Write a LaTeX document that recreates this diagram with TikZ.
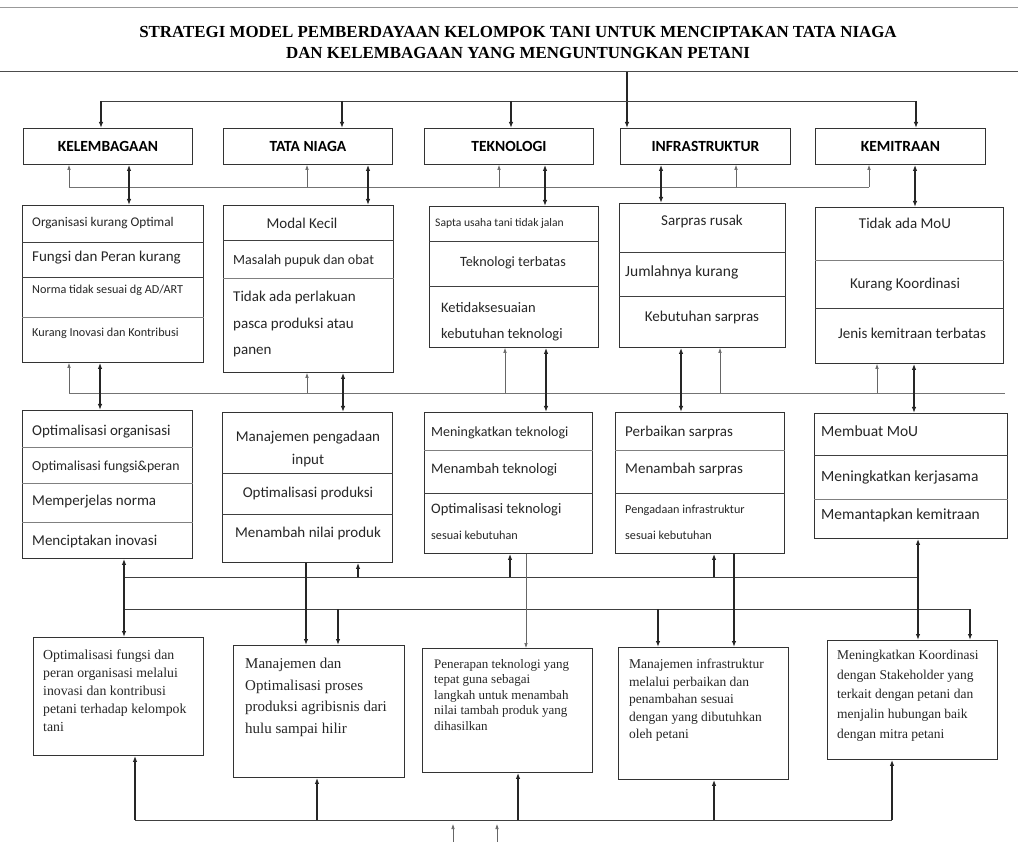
\documentclass[tikz,border=0pt]{standalone}
\usepackage{fontspec}
\setmainfont{Liberation Serif}
\newfontfamily\carl{Carlito}
\usetikzlibrary{arrows.meta}
\begin{document}
\begin{tikzpicture}[x=1pt,y=-1pt,
  box/.style={draw=black!80, line width=0.9pt, inner sep=0pt, anchor=north west},
  hdr/.style={box, font=\carl\bfseries\fontsize{15.5}{18}\selectfont},
  txt/.style={font=\carl\fontsize{15}{17}\selectfont, inner sep=0pt, anchor=west, text=black!85},
  txtc/.style={txt, anchor=center},
  stxt/.style={txt, font=\carl\fontsize{12.2}{14}\selectfont},
  ser/.style={align=left, anchor=north west, inner sep=0pt, text=black!85},
  div/.style={draw=black!75, line width=0.8pt},
  fdiv/.style={draw=black!50, line width=0.5pt},
  thk/.style={line width=1.3pt, draw=black!85, -{Latex[length=6pt,width=4.5pt]}},
  dbl/.style={line width=1.3pt, draw=black!85, {Latex[length=6pt,width=4.5pt]}-{Latex[length=6pt,width=4.5pt]}},
  thn/.style={line width=0.6pt, draw=black!60, -{Latex[length=5pt,width=3.5pt]}},
  bus/.style={line width=0.8pt, draw=black!75}]
\useasboundingbox (0,0) rectangle (1018,842);

% title
\draw[line width=0.5pt, black!40] (0,7) -- (1018,7);
\node[font=\bfseries\fontsize{16.9}{20}\selectfont] (t1) at (518,32) {STRATEGI MODEL PEMBERDAYAAN KELOMPOK TANI UNTUK MENCIPTAKAN TATA NIAGA};
\node[font=\bfseries\fontsize{16.9}{20}\selectfont] (t2) at (518,53) {DAN KELEMBAGAAN YANG MENGUNTUNGKAN PETANI};
\draw[line width=1pt, black!70] (0,72) -- (1018,72);
\coordinate (rule) at (627,72);

% headers
\node[hdr, minimum width=169pt, minimum height=36pt] (hK) at (23,128) {KELEMBAGAAN};
\node[hdr, minimum width=169pt, minimum height=36pt] (hT) at (223,128) {TATA NIAGA};
\node[hdr, minimum width=169pt, minimum height=36pt] (hE) at (424,128) {TEKNOLOGI};
\node[hdr, minimum width=170pt, minimum height=36pt] (hI) at (620,128) {INFRASTRUKTUR};
\node[hdr, minimum width=170pt, minimum height=36pt] (hM) at (815,128) {KEMITRAAN};

% problem boxes
\node[box, minimum width=181pt, minimum height=157pt] (pK) at (22,205) {};
\draw[div] (pK.west |- 0,242) -- (pK.east |- 0,242);
\draw[div] (pK.west |- 0,277) -- (pK.east |- 0,277);
\draw[fdiv] (pK.west |- 0,317) -- (pK.east |- 0,317);
\node[txt, font=\carl\fontsize{13.3}{15}\selectfont] (pK1) at (32,223) {Organisasi kurang Optimal};
\node[txt] (pK2) at (32,258) {Fungsi dan Peran kurang};
\node[stxt] (pK3) at (32,290) {Norma tidak sesuai dg AD/ART};
\node[stxt] (pK4) at (32,333) {Kurang Inovasi dan Kontribusi};

\node[box, minimum width=170pt, minimum height=167pt] (pT) at (223,205) {};
\draw[div] (pT.west |- 0,240) -- (pT.east |- 0,240);
\draw[fdiv] (pT.west |- 0,278) -- (pT.east |- 0,278);
\node[txtc] (pT1) at (302,223) {Modal Kecil};
\node[txt, font=\carl\fontsize{14}{16}\selectfont] (pT2) at (233,261) {Masalah pupuk dan obat};
\node[txt] (pT3) at (233,298) {Tidak ada perlakuan};
\node[txt] (pT4) at (233,325) {pasca produksi atau};
\node[txt] (pT5) at (233,352) {panen};

\node[box, minimum width=169pt, minimum height=141pt] (pE) at (429,206) {};
\draw[div] (pE.west |- 0,241) -- (pE.east |- 0,241);
\draw[div] (pE.west |- 0,286) -- (pE.east |- 0,286);
\node[stxt, font=\carl\fontsize{11.6}{13}\selectfont] (pE1) at (435,223) {Sapta usaha tani tidak jalan};
\node[txtc, font=\carl\fontsize{14.2}{16}\selectfont] (pE2) at (513,263) {Teknologi terbatas};
\node[txt, font=\carl\fontsize{14.5}{16}\selectfont] (pE3) at (441,308) {Ketidaksesuaian};
\node[txt, font=\carl\fontsize{14.5}{16}\selectfont] (pE4) at (441,335) {kebutuhan teknologi};

\node[box, minimum width=166pt, minimum height=144pt] (pI) at (619,203) {};
\draw[div] (pI.west |- 0,252) -- (pI.east |- 0,252);
\draw[div] (pI.west |- 0,296) -- (pI.east |- 0,296);
\node[txtc] (pI1) at (702,222) {Sarpras rusak};
\node[txt, font=\carl\fontsize{15.5}{17}\selectfont] (pI2) at (625,272) {Jumlahnya kurang};
\node[txtc] (pI3) at (702,318) {Kebutuhan sarpras};

\node[box, minimum width=188pt, minimum height=156pt] (pM) at (815,207) {};
\draw[fdiv] (pM.west |- 0,260) -- (pM.east |- 0,260);
\draw[div] (pM.west |- 0,308) -- (pM.east |- 0,308);
\node[txtc] (pM1) at (905,223) {Tidak ada MoU};
\node[txtc] (pM2) at (905,285) {Kurang Koordinasi};
\node[txtc] (pM3) at (912,333) {Jenis kemitraan terbatas};

% solution boxes
\node[box, minimum width=170pt, minimum height=148pt] (sK) at (22,410) {};
\draw[fdiv] (sK.west |- 0,447) -- (sK.east |- 0,447);
\draw[fdiv] (sK.west |- 0,483) -- (sK.east |- 0,483);
\draw[fdiv] (sK.west |- 0,522) -- (sK.east |- 0,522);
\node[txt] (sK1) at (32,432) {Optimalisasi organisasi};
\node[txt, font=\carl\fontsize{13.8}{15}\selectfont] (sK2) at (32,467) {Optimalisasi fungsi\&peran};
\node[txt] (sK3) at (32,502) {Memperjelas norma};
\node[txt] (sK4) at (32,541) {Menciptakan inovasi};

\node[box, minimum width=170pt, minimum height=150pt] (sT) at (222,412) {};
\draw[div] (sT.west |- 0,473) -- (sT.east |- 0,473);
\draw[div] (sT.west |- 0,514) -- (sT.east |- 0,514);
\node[txtc] (sT1) at (308,438) {Manajemen pengadaan};
\node[txtc] (sT2) at (308,461) {input};
\node[txtc] (sT3) at (308,493) {Optimalisasi produksi};
\node[txtc] (sT4) at (308,533) {Menambah nilai produk};

\node[box, minimum width=168pt, minimum height=141pt] (sE) at (424,412) {};
\draw[fdiv] (sE.west |- 0,450) -- (sE.east |- 0,450);
\draw[div] (sE.west |- 0,493) -- (sE.east |- 0,493);
\node[txt, font=\carl\fontsize{14}{16}\selectfont] (sE1) at (431,433) {Meningkatkan teknologi};
\node[txt, font=\carl\fontsize{14.5}{16}\selectfont] (sE2) at (431,470) {Menambah teknologi};
\node[txt, font=\carl\fontsize{14.5}{16}\selectfont] (sE3) at (431,510) {Optimalisasi teknologi};
\node[stxt] (sE4) at (431,535) {sesuai kebutuhan};

\node[box, minimum width=169pt, minimum height=141pt] (sI) at (615,412) {};
\draw[fdiv] (sI.west |- 0,450) -- (sI.east |- 0,450);
\draw[div] (sI.west |- 0,493) -- (sI.east |- 0,493);
\node[txt] (sI1) at (625,433) {Perbaikan sarpras};
\node[txt] (sI2) at (625,470) {Menambah sarpras};
\node[stxt] (sI3) at (625,510) {Pengadaan infrastruktur};
\node[stxt] (sI4) at (625,535) {sesuai kebutuhan};

\node[box, minimum width=193pt, minimum height=125pt] (sM) at (814,413) {};
\draw[div] (sM.west |- 0,455) -- (sM.east |- 0,455);
\draw[fdiv] (sM.west |- 0,499) -- (sM.east |- 0,499);
\node[txt, font=\carl\fontsize{15.5}{17}\selectfont] (sM1) at (821,431) {Membuat MoU};
\node[txt, font=\carl\fontsize{15.5}{17}\selectfont] (sM2) at (821,477) {Meningkatkan kerjasama};
\node[txt, font=\carl\fontsize{15.5}{17}\selectfont] (sM3) at (821,515) {Memantapkan kemitraan};

% bottom boxes
\node[box, minimum width=170pt, minimum height=118pt] (bK) at (33,637) {};
\node[ser, font=\fontsize{13.8}{18}\selectfont] (bK1) at (43,650) {Optimalisasi fungsi dan\\peran organisasi melalui\\inovasi dan kontribusi\\petani terhadap kelompok\\tani};
\node[box, minimum width=171pt, minimum height=132pt] (bT) at (233,645) {};
\node[ser, font=\fontsize{15}{21.5}\selectfont] (bT1) at (245,658) {Manajemen dan\\Optimalisasi proses\\produksi agribisnis dari\\hulu sampai hilir};
\node[box, minimum width=170pt, minimum height=124pt] (bE) at (422,648) {};
\node[ser, font=\fontsize{13}{15.5}\selectfont] (bE1) at (434,659) {Penerapan teknologi yang\\tepat guna sebagai\\langkah untuk menambah\\nilai tambah produk yang\\dihasilkan};
\node[box, minimum width=170pt, minimum height=132pt] (bI) at (618,647) {};
\node[ser, font=\fontsize{13.5}{17.5}\selectfont] (bI1) at (629,659) {Manajemen infrastruktur\\melalui perbaikan dan\\penambahan sesuai\\dengan yang dibutuhkan\\oleh petani};
\node[box, minimum width=170pt, minimum height=119pt] (bM) at (827,640) {};
\node[ser, font=\fontsize{13.5}{19.7}\selectfont] (bM1) at (837,650) {Meningkatkan Koordinasi\\dengan Stakeholder yang\\terkait dengan petani dan\\menjalin hubungan baik\\dengan mitra petani};

% ---- connectors ----
\draw[thk] (rule) -- (627,0 |- hI.north);
\draw[bus] (101,101) -- (916,101);
\draw[thk] (101,101) -- (101,0 |- hK.north);
\draw[thk] (342,101) -- (342,0 |- hT.north);
\draw[thk] (511,101) -- (511,0 |- hE.north);
\draw[thk] (916,101) -- (916,0 |- hM.north);

\draw[bus, black!55, line width=0.6pt] (69,187) -- (869,187);
\draw[thn] (69,187) -- (69,0 |- hK.south);
\draw[thn] (307,187) -- (307,0 |- hT.south);
\draw[thn] (499,187) -- (499,0 |- hE.south);
\draw[thn] (736,187) -- (736,0 |- hI.south);
\draw[thn] (869,187) -- (869,0 |- hM.south);
\draw[dbl] (129,0 |- hK.south) -- (129,0 |- pK.north);
\draw[dbl] (368,0 |- hT.south) -- (368,0 |- pT.north);
\draw[dbl] (545,0 |- hE.south) -- (545,0 |- pE.north);
\draw[dbl] (661,0 |- hI.south) -- (661,0 |- pI.north);
\draw[dbl] (915,0 |- hM.south) -- (915,0 |- pM.north);

\draw[bus, black!55, line width=0.6pt] (69,393) -- (1005,393);
\draw[thn] (69,393) -- (69,0 |- pK.south);
\draw[thn] (307,393) -- (307,0 |- pT.south);
\draw[thn] (505,393) -- (505,0 |- pE.south);
\draw[thn] (720,393) -- (720,0 |- pI.south);
\draw[thn] (877,393) -- (877,0 |- pM.south);
\draw[dbl] (100,0 |- pK.south) -- (100,0 |- sK.north);
\draw[dbl] (343,0 |- pT.south) -- (343,0 |- sT.north);
\draw[dbl] (546,0 |- pE.south) -- (546,0 |- sE.north);
\draw[dbl] (681,0 |- pI.south) -- (681,0 |- sI.north);
\draw[dbl] (914,0 |- pM.south) -- (914,0 |- sM.north);

\draw[bus] (124,577) -- (918,577);
\draw[bus] (124,609) -- (970,609);
\draw[dbl] (124,0 |- sK.south) -- (124,0 |- bK.north);
\draw[thk] (358,577) -- (358,0 |- sT.south);
\draw[thk] (510,577) -- (510,0 |- sE.south);
\draw[thk] (714,577) -- (714,0 |- sI.south);
\draw[dbl] (918,0 |- sM.south) -- (918,0 |- bM.north);
\draw[thk] (306,0 |- sT.south) -- (306,0 |- bT.north);
\draw[thn] (526,0 |- sE.south) -- (526,0 |- bE.north);
\draw[thk] (734,0 |- sI.south) -- (734,0 |- bI.north);
\draw[thk] (338,609) -- (338,0 |- bT.north);
\draw[thk] (658,609) -- (658,0 |- bI.north);
\draw[thk] (970,609) -- (970,0 |- bM.north);

\draw[bus] (135,820) -- (892,820);
\draw[thk] (135,820) -- (135,0 |- bK.south);
\draw[thk] (317,820) -- (317,0 |- bT.south);
\draw[thk] (518,820) -- (518,0 |- bE.south);
\draw[thk] (714,820) -- (714,0 |- bI.south);
\draw[thk] (892,820) -- (892,0 |- bM.south);
\coordinate (in1) at (453,842);
\coordinate (in2) at (497,842);
\draw[thn] (in1) -- (453,824);
\draw[thn] (in2) -- (497,824);
\end{tikzpicture}
\end{document}
